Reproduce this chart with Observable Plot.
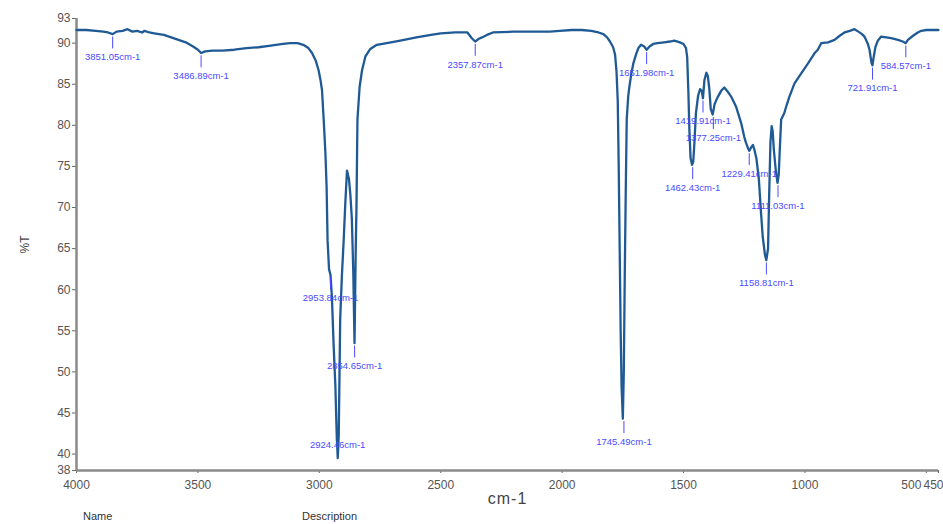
<!DOCTYPE html>
<html>
<head>
<meta charset="utf-8">
<script src="https://cdn.jsdelivr.net/npm/d3@7"></script>
<script src="https://cdn.jsdelivr.net/npm/@observablehq/plot@0.6"></script>
<style>
  html, body { margin: 0; padding: 0; background: #fff; }
  #wrap { position: relative; width: 943px; height: 524px; overflow: hidden; font-family: "Liberation Sans", Arial, sans-serif; }
  #footer { position: relative; height: 18px; font-size: 11px; color: #333; }
  #footer span { position: absolute; top: 4px; }
  svg g[aria-label="x-axis label"] text { font-size: 16px; letter-spacing: 1px; fill: #444; }
  svg g[aria-label="y-axis label"] text { font-size: 12px; fill: #444; }
</style>
</head>
<body>
<div id="wrap">
  <div id="chart"></div>
  <div id="footer"><span style="left:83px">Name</span><span style="left:302px">Description</span></div>
</div>
<script>
// Wavenumber (cm-1) and transmittance (%T)
const wavenumber = [
  4000, 3960, 3920, 3890, 3870, 3851, 3835, 3810, 3790, 3770, 3750, 3730, 3720, 3700, 3680, 3660, 3640, 3610, 3580, 3550,
  3520, 3500, 3487, 3470, 3440, 3400, 3350, 3300, 3250, 3200, 3150, 3120, 3090, 3066, 3045, 3030, 3015, 3003, 2995, 2989,
  2982, 2975, 2970, 2966, 2960, 2954, 2948, 2941, 2934, 2928, 2924, 2920, 2914, 2907, 2900, 2893, 2886, 2878, 2872, 2866,
  2860, 2855, 2850, 2847, 2843, 2834, 2824, 2810, 2790, 2763, 2722, 2667, 2600, 2540, 2500, 2440, 2390, 2372, 2358, 2345,
  2330, 2310, 2285, 2200, 2130, 2050, 2010, 1960, 1920, 1880, 1850, 1830, 1815, 1803, 1790, 1782, 1776, 1771, 1767, 1763,
  1759, 1755, 1750, 1746, 1742, 1738, 1734, 1728, 1723, 1715, 1707, 1695, 1686, 1675, 1662, 1652, 1640, 1625, 1607, 1580,
  1556, 1538, 1515, 1500, 1490, 1485, 1480, 1476, 1471, 1465, 1460, 1455, 1449, 1440, 1432, 1425, 1420, 1414, 1406, 1400,
  1394, 1388, 1380, 1372, 1360, 1345, 1332, 1318, 1304, 1284, 1263, 1250, 1243, 1233, 1229, 1220, 1214, 1208, 1200, 1190,
  1181, 1174, 1165, 1159, 1152, 1147, 1142, 1137, 1133, 1128, 1120, 1113, 1108, 1103, 1098, 1085, 1075, 1064, 1043, 1016,
  988, 960, 947, 933, 905, 878, 857, 837, 815, 796, 780, 765, 755, 742, 734, 726, 722, 717, 710, 700,
  686, 665, 645, 617, 597, 585, 576, 555, 535, 521, 500, 480, 450
];
const transmittance = [
  91.6, 91.6, 91.5, 91.4, 91.3, 91.1, 91.4, 91.5, 91.7, 91.4, 91.5, 91.3, 91.5, 91.3, 91.2, 91.1, 91.0, 90.7, 90.4, 90.1,
  89.6, 89.2, 88.8, 89.0, 89.1, 89.1, 89.2, 89.4, 89.5, 89.7, 89.9, 90.0, 90.0, 89.8, 89.4, 88.8, 87.9, 86.7, 85.5, 84.3,
  80.7, 76.7, 72.5, 66.0, 62.5, 61.8, 59.0, 53.2, 48.4, 42.0, 39.5, 42.3, 56.5, 61.7, 65.8, 70.5, 74.5, 73.5, 71.5, 68.6,
  62.0, 53.5, 65.0, 70.0, 80.7, 84.7, 86.7, 88.4, 89.3, 89.8, 90.0, 90.3, 90.7, 91.0, 91.2, 91.3, 91.3, 90.6, 90.2, 90.5,
  90.7, 91.0, 91.3, 91.4, 91.4, 91.4, 91.5, 91.6, 91.6, 91.5, 91.3, 91.1, 90.7, 90.2, 89.5, 88.6, 86.5, 83.0, 75.0, 65.0,
  55.0, 48.0, 44.3, 50.0, 62.0, 72.0, 80.7, 83.5, 84.7, 86.3, 87.5, 88.7, 89.4, 89.8, 89.6, 89.2, 89.6, 89.9, 90.0, 90.1,
  90.2, 90.3, 90.1, 89.9, 89.4, 88.3, 84.0, 79.5, 76.0, 75.2, 75.6, 78.0, 81.5, 83.6, 84.4, 84.2, 83.3, 85.5, 86.4, 86.0,
  84.5, 82.0, 81.3, 82.6, 83.4, 84.2, 84.6, 84.1, 83.5, 82.3, 80.3, 78.6, 77.9, 77.1, 76.9, 77.4, 77.6, 77.0, 76.0, 73.5,
  69.4, 66.5, 64.3, 63.6, 65.0, 72.0, 78.0, 79.9, 79.3, 77.0, 74.5, 73.0, 74.0, 77.5, 80.7, 81.5, 82.5, 83.5, 85.1, 86.3,
  87.5, 88.8, 89.2, 90.0, 90.1, 90.4, 90.9, 91.3, 91.5, 91.7, 91.4, 91.1, 90.8, 90.0, 89.2, 87.6, 87.3, 88.3, 89.5, 90.3,
  90.8, 90.7, 90.6, 90.4, 90.2, 90.0, 90.4, 90.9, 91.3, 91.5, 91.6, 91.6, 91.6
];

// Peak annotations
const peakWavenumber = [3851.05, 3486.89, 2953.84, 2924.46, 2854.65, 2357.87, 1745.49, 1651.98, 1462.43, 1419.91, 1377.25, 1229.41, 1158.81, 1111.03, 721.91, 584.57];
const peakTransmittance = [91.1, 88.8, 61.8, 39.5, 53.5, 90.2, 44.3, 89.2, 75.2, 83.3, 81.3, 76.9, 63.6, 73.0, 87.3, 90.0];

// Axis ticks
const xTicks = [4000, 3500, 3000, 2500, 2000, 1500, 1000, 500, 450];
const yTicks = [38, 40, 45, 50, 55, 60, 65, 70, 75, 80, 85, 90, 93];

const spectrum = wavenumber.map((w, i) => ({w, t: transmittance[i]}));
const peaks = peakWavenumber.map((w, i) => ({w, t: peakTransmittance[i], label: w.toFixed(2) + "cm-1"}));
const peaksBelow = peaks.filter(d => d.t >= 42);
const peaksAbove = peaks.filter(d => d.t < 42);

const lineColor = "#1f5a95";
const peakColor = "#4a4aff";
const axisColor = "#8a8a8a";

const chart = Plot.plot({
  width: 943,
  height: 506,
  marginTop: 18,
  marginBottom: 36,
  marginLeft: 76,
  marginRight: 5,
  style: {fontFamily: "'Liberation Sans', Arial, sans-serif", fontSize: "12px", color: "#555", background: "#fff"},
  x: {domain: [4000, 450]},
  y: {domain: [38, 93]},
  marks: [
    Plot.axisY({ticks: yTicks, tickSize: 4, tickPadding: 2, stroke: "#666", label: "%T", labelAnchor: "center", labelOffset: 56, labelArrow: "none"}),
    Plot.axisX({ticks: xTicks, tickSize: 3, tickPadding: 7, stroke: "#666",
      tickFormat: d => (d === 500 || d === 450) ? "" : String(d),
      label: "cm-1", labelAnchor: "center", labelOffset: 33, labelArrow: "none"}),
    Plot.axisX({ticks: xTicks.filter(d => d === 500), tickSize: 0, tickPadding: 10, textAnchor: "end", dx: -5, label: null}),
    Plot.axisX({ticks: xTicks.filter(d => d === 450), tickSize: 0, tickPadding: 10, textAnchor: "end", dx: 5, label: null}),
    Plot.ruleX([4000], {stroke: axisColor, strokeWidth: 2.5}),
    Plot.ruleY([38], {stroke: axisColor, strokeWidth: 2.5}),
    Plot.line(spectrum, {x: "w", y: "t", stroke: lineColor, strokeWidth: 2.3, curve: "linear"}),
    Plot.ruleX(peaksBelow, {x: "w", y1: d => d.t - 0.35, y2: d => d.t - 1.8, stroke: peakColor, strokeWidth: 1}),
    Plot.text(peaksBelow, {x: "w", y: "t", text: "label", dy: 23, fill: peakColor, fontSize: 9.5}),
    Plot.text(peaksAbove, {x: "w", y: "t", text: "label", dy: -13, fill: peakColor, fontSize: 9.5})
  ]
});
document.getElementById("chart").appendChild(chart);
</script>
</body>
</html>
